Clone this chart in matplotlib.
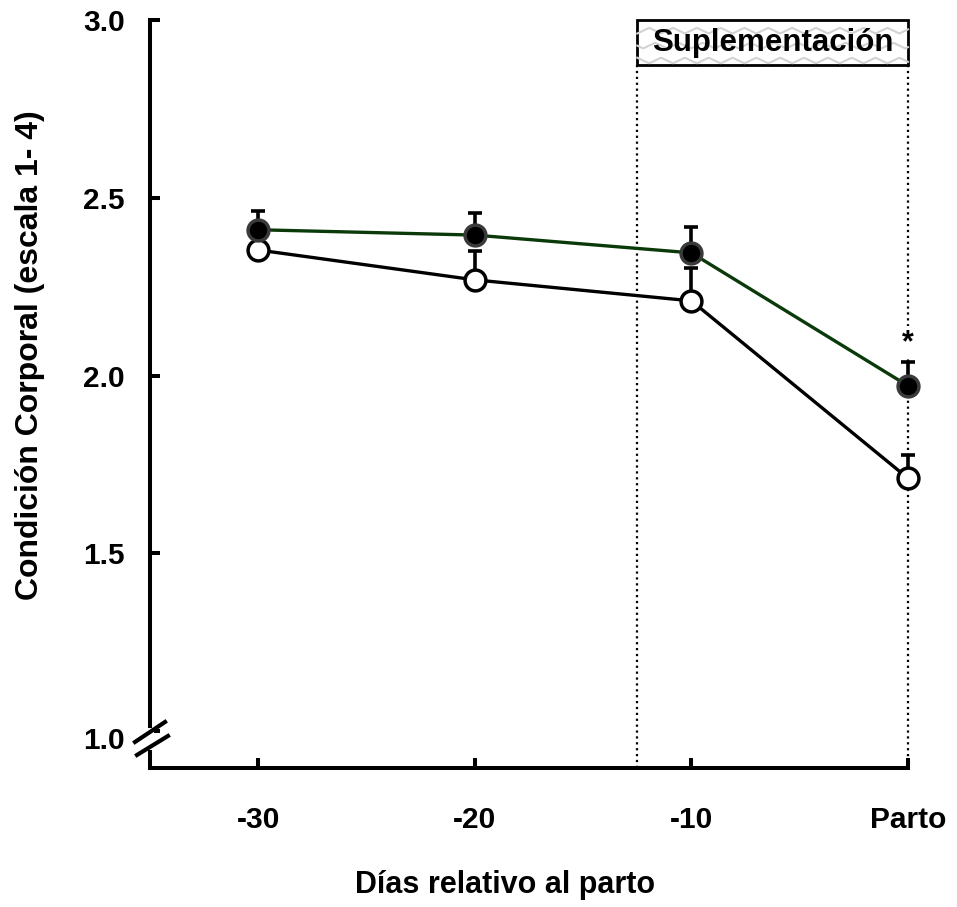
import numpy as np
import matplotlib
matplotlib.use("Agg")
import matplotlib.pyplot as plt
from matplotlib.patches import Rectangle
from matplotlib.transforms import ScaledTranslation

plt.rcParams["font.family"] = ["Liberation Sans", "DejaVu Sans"]
plt.rcParams["font.weight"] = "bold"

# data
days = [-30, -20, -10, 0]
day_labels = ["-30", "-20", "-10", "Parto"]
supl_mean = [2.41, 2.395, 2.345, 1.971]
supl_err = [0.054, 0.063, 0.073, 0.068]
ctrl_mean = [2.353, 2.269, 2.21, 1.711]
ctrl_err = [0.04, 0.081, 0.092, 0.065]
yticks = [1.0, 1.5, 2.0, 2.5, 3.0]
supl_start = -12.5
star_y = 2.092

W, H = 957, 907
fig = plt.figure(figsize=(W / 100, H / 100), dpi=100)
ax = fig.add_axes([150 / W, 1 - 768 / H, 758 / W, 748 / H])
ax.set_xlim(-35, 0)
ax.set_ylim(0.896, 3.0)

for s in ["top", "right"]:
    ax.spines[s].set_visible(False)
for s in ["left", "bottom"]:
    ax.spines[s].set_linewidth(2.9)

ax.set_xticks(days)
ax.set_xticklabels(day_labels)
ax.set_yticks(yticks)
ax.set_yticklabels([f"{v:.1f}" for v in yticks])
ax.tick_params(axis="both", direction="in", length=7, width=2.9, labelsize=21.5)
ax.tick_params(axis="x", pad=27)
ax.tick_params(axis="y", pad=18)
# the 1.0 label sits a little lower, next to the axis break
lab = ax.get_yticklabels()[0]
lab.set_transform(lab.get_transform() + ScaledTranslation(0, -0.07, fig.dpi_scale_trans))

# supplementation period
ax.plot([supl_start, supl_start], [0.896, 2.873], ls=":", color="black", lw=1.6, zorder=1, clip_on=False)
ax.plot([0, 0], [0.896, 2.873], ls=":", color="black", lw=1.6, zorder=1, clip_on=False)
box = Rectangle((supl_start, 2.873), -supl_start, 3.0 - 2.873, facecolor="white",
                edgecolor="black", lw=2, zorder=3, clip_on=False)
ax.add_patch(box)
# light wavy background inside the box
xs = np.linspace(supl_start, 0, 200)
for k in range(3):
    base = 2.878 + k * 0.042
    wave = base + 0.016 * np.abs(((xs - supl_start) / 0.55 + 0.5 * k) % 2 - 1)
    ln, = ax.plot(xs, wave, color="#d2d2d2", lw=1.5, zorder=3.5, clip_on=False)
    ln.set_clip_path(box)
ax.text(supl_start / 2, 2.9365, "Suplementación", ha="center", va="center",
        fontsize=22.5, fontweight="bold", zorder=4)

# control (open circles)
ax.errorbar(days, ctrl_mean, yerr=[np.zeros(len(ctrl_err)), ctrl_err], fmt="none",
            ecolor="black", elinewidth=2.6, capsize=5, capthick=2.6, zorder=5, clip_on=False)
ax.plot(days, ctrl_mean, color="black", lw=2.4, marker="o", ms=15, mfc="white",
        mec="black", mew=2.5, zorder=6, clip_on=False)

# supplemented (filled circles)
ax.errorbar(days, supl_mean, yerr=[np.zeros(len(supl_err)), supl_err], fmt="none",
            ecolor="black", elinewidth=2.6, capsize=5, capthick=2.6, zorder=7, clip_on=False)
ax.plot(days, supl_mean, color="#0a3a0a", lw=2.4, marker="o", ms=15, mfc="black",
        mec="#3a3a3a", mew=2.5, zorder=8, clip_on=False)

ax.text(0, star_y, "*", ha="center", va="center", fontsize=22, fontweight="bold", zorder=9,
        bbox=dict(facecolor="white", edgecolor="none", pad=1))

# axis break on the y axis
ax.plot([0, 0], [0.03, 0.05], transform=ax.transAxes, color="white", lw=5, clip_on=False, zorder=10)
ax.plot([-0.0198, 0.0198], [0.0348, 0.0615], transform=ax.transAxes, color="black", lw=3, clip_on=False, zorder=11)
ax.plot([-0.0172, 0.0237], [0.0174, 0.0428], transform=ax.transAxes, color="black", lw=3, clip_on=False, zorder=11)

fig.text(30 / W, 1 - 355 / H, "Condición Corporal (escala 1- 4)", rotation=90,
         ha="center", va="center", fontsize=23, fontweight="bold")
fig.text(505 / W, 1 - 885 / H, "Días relativo al parto", ha="center", va="center",
         fontsize=22, fontweight="bold")

fig.savefig("out.png", dpi=100)
